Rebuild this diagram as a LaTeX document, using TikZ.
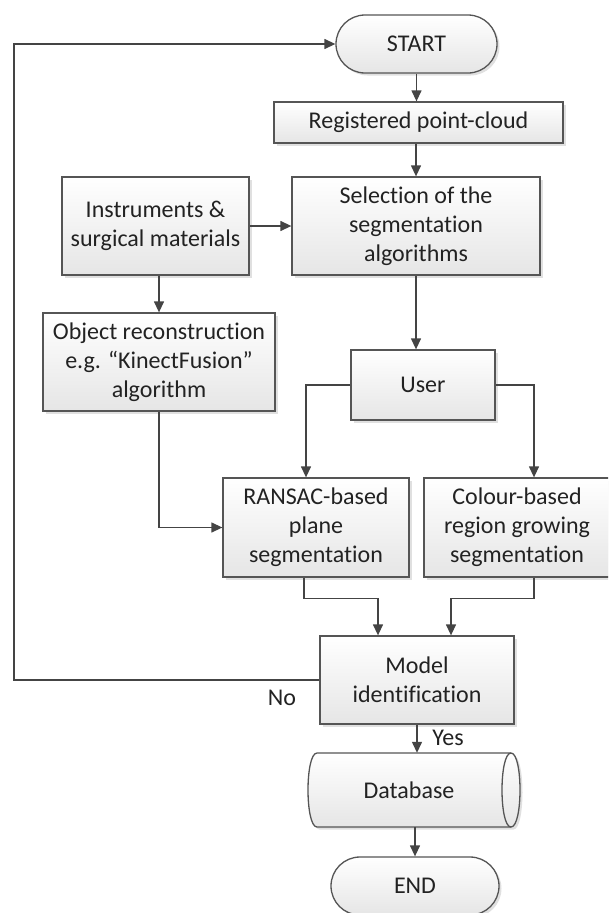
\documentclass[tikz,border=0pt]{standalone}
\usepackage{fontspec}
\setmainfont{Carlito}[Ligatures=NoCommon]
\usetikzlibrary{arrows.meta,shadows}
\definecolor{edge}{HTML}{555555}
\definecolor{wire}{HTML}{444444}
\definecolor{ink}{HTML}{222222}
\tikzset{
  box/.style={draw=edge, line width=1.3pt, top color=white, bottom color=black!10,
    drop shadow={shadow xshift=2.5pt, shadow yshift=-2.5pt, fill=black!30, opacity=0.4},
    inner sep=0pt, align=center, text=ink, font=\fontsize{24}{29}\selectfont},
  term/.style={box, rounded corners=29pt},
  wirearrow/.style={draw=wire, line width=1.3pt, -{Triangle[length=11pt,width=10pt]}},
  tag/.style={text=ink, font=\fontsize{24}{29}\selectfont, inner sep=0pt}
}
\begin{document}
\begin{tikzpicture}[x=1pt,y=-1pt]
\useasboundingbox (0,0) rectangle (608,913);
\clip (0,0) rectangle (608,913);

% process boxes
\node[term, minimum width=161pt, minimum height=58pt] (start) at (416.5,44) {START};
\node[box, minimum width=289pt, minimum height=41pt] (reg) at (418.5,122.5) {Registered point-cloud};
\node[box, minimum width=187pt, minimum height=98pt] (inst) at (155.5,226) {Instruments \&\\surgical materials};
\node[box, minimum width=248pt, minimum height=98pt] (sel) at (416,226) {Selection of the\\segmentation\\algorithms};
\node[box, minimum width=232pt, minimum height=98pt] (obj) at (159,362) {Object reconstruction\\e.g. “KinectFusion”\\algorithm};
\node[box, minimum width=144pt, minimum height=70pt] (user) at (423,385) {User};
\node[box, minimum width=186pt, minimum height=99pt] (ransac) at (316,527.5) {RANSAC-based\\plane\\segmentation};
\node[box, minimum width=186pt, minimum height=99pt] (colour) at (517,527.5) {Colour-based\\region growing\\segmentation};
\node[box, minimum width=194pt, minimum height=88pt] (model) at (417,680) {Model\\identification};

% database drum lying on its side
\path[fill=black!30, opacity=0.4, shift={(2.5,2.5)}]
  (317,753) -- (511,753) .. controls (523,753) and (523,827) .. (511,827)
  -- (317,827) .. controls (305,827) and (305,753) .. (317,753) -- cycle;
\shadedraw[top color=white, bottom color=black!10, draw=edge, line width=1.3pt]
  (317,753) -- (511,753) .. controls (523,753) and (523,827) .. (511,827)
  -- (317,827) .. controls (305,827) and (305,753) .. (317,753) -- cycle;
\draw[draw=edge, line width=1.3pt] (511,753) .. controls (499,753) and (499,827) .. (511,827);
\node[minimum width=212pt, minimum height=74pt, inner sep=0pt] (db) at (414,790) {};
\node[tag] (dblabel) at (409,790) {Database};

\node[term, minimum width=168pt, minimum height=58pt] (end) at (415,886) {END};

% connectors
\draw[wirearrow] (start.south) -- (start.south |- reg.north);
\draw[wirearrow] (sel.north |- reg.south) -- (sel.north);
\draw[wirearrow] (inst.east) -- (sel.west);
\draw[wirearrow] (obj.north |- inst.south) -- (obj.north);
\draw[wirearrow] (sel.south) -- (sel.south |- user.north);
\draw[wirearrow] (user.west) -| ([xshift=-10pt]ransac.north);
\draw[wirearrow] (user.east) -| ([xshift=17pt]colour.north);
\draw[wirearrow] (obj.south) |- (ransac.west);
\draw[wirearrow] ([xshift=-12pt]ransac.south) -- ++(0,21) -| ([xshift=-39pt]model.north);
\draw[wirearrow] ([xshift=17pt]colour.south) -- ++(0,21) -| ([xshift=34pt]model.north);

\coordinate (loopbottom) at (14,680);
\coordinate (looptop) at (14,44);
\draw[wirearrow] (model.west) -- (loopbottom) -- (looptop) -- (start.west);
\node[tag] (no) at (282,698) {No};

\draw[wirearrow] (model.south) -- (model.south |- db.north);
\node[tag] (yes) at (448,738) {Yes};
\draw[wirearrow] (end.north |- db.south) -- (end.north);
\end{tikzpicture}
\end{document}
